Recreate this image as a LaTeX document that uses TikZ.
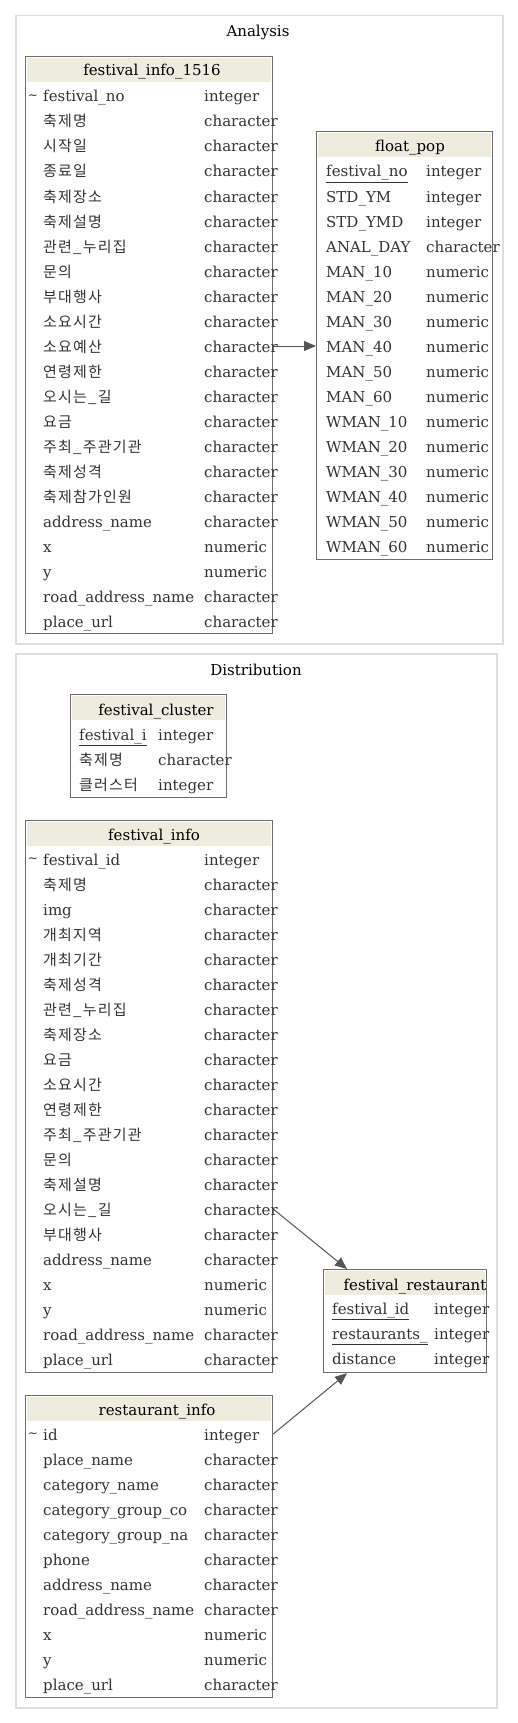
\documentclass[tikz,border=0pt]{standalone}
\usepackage{fontspec}
\setmainfont{DejaVu Serif}
\newfontfamily\kor{Noto Sans CJK KR}[Scale=1.0, LetterSpace=8]
\newcommand{\kname}[1]{{\kor #1}}
\usetikzlibrary{arrows.meta, calc}

\definecolor{hdrfill}{HTML}{EEEBDF}
\definecolor{tblline}{HTML}{6E6E6E}
\definecolor{clusterline}{HTML}{DEDEDE}
\definecolor{fkline}{HTML}{555555}
\definecolor{rowtext}{HTML}{333333}

\tikzset{
  cluster/.style={draw=clusterline, line width=1.5pt, inner sep=0pt, anchor=north west},
  tbl/.style={draw=tblline, line width=1.2pt, inner sep=0pt, anchor=north west},
  hdr/.style={inner sep=0pt, text height=14pt, text depth=2pt, font=\fontsize{15}{18}\selectfont},
  row/.style={anchor=west, inner sep=0pt, text height=14pt, text depth=2pt, font=\fontsize{15}{18}\selectfont, text=rowtext},
  key/.style={inner sep=0pt, font=\fontsize{12}{13}\selectfont, text=rowtext},
  fk/.style={draw=fkline, line width=1pt, -{Triangle[length=12pt,width=10pt]}},
}

\begin{document}
\begin{tikzpicture}[x=1pt, y=-1pt]
    \useasboundingbox (0,0) rectangle (518,1723);

    % Clusters
    \node[cluster, minimum width=487pt, minimum height=628pt] (analysis) at (15,15) {};
    \node[hdr] (analysis-h) at (258,31) {Analysis};
    \node[cluster, minimum width=481pt, minimum height=1054pt] (distribution) at (15,653) {};
    \node[hdr] (distribution-h) at (256,669) {Distribution};

    % festival_info_1516
    \node[tbl, minimum width=247pt, minimum height=577pt] (fi1516) at (25,56) {};
    \fill[hdrfill] ($(fi1516.north west)+(2,2)$) rectangle ($(fi1516.north east)+(-2,26)$);
    \node[hdr] (fi1516-h) at (152,70) {festival\_info\_1516};
    \node[key] (fi1516-k) at (33,97) {\symbol{126}};
    \foreach \i/\n/\t in {1/festival\_no/integer, 2/\kname{축제명}/character, 3/\kname{시작일}/character,
      4/\kname{종료일}/character, 5/\kname{축제장소}/character, 6/\kname{축제설명}/character,
      7/\kname{관련\_누리집}/character, 8/\kname{문의}/character, 9/\kname{부대행사}/character,
      10/\kname{소요시간}/character, 11/\kname{소요예산}/character, 12/\kname{연령제한}/character,
      13/\kname{오시는\_길}/character, 14/\kname{요금}/character, 15/\kname{주최\_주관기관}/character,
      16/\kname{축제성격}/character, 17/\kname{축제참가인원}/character, 18/address\_name/character,
      19/x/numeric, 20/y/numeric, 21/road\_address\_name/character, 22/place\_url/character} {
      \node[row] (fi1516-n\i) at (43,71+25*\i) {\n};
      \node[row] (fi1516-t\i) at (204,71+25*\i) {\t};
    }

    % float_pop
    \node[tbl, minimum width=176pt, minimum height=428pt] (fp) at (316,131) {};
    \fill[hdrfill] ($(fp.north west)+(2,2)$) rectangle ($(fp.north east)+(-2,26)$);
    \node[hdr] (fp-h) at (410,146) {float\_pop};
    \foreach \i/\n/\t in {1/\underline{festival\_no}/integer, 2/STD\_YM/integer, 3/STD\_YMD/integer,
      4/ANAL\_DAY/character, 5/MAN\_10/numeric, 6/MAN\_20/numeric, 7/MAN\_30/numeric,
      8/MAN\_40/numeric, 9/MAN\_50/numeric, 10/MAN\_60/numeric, 11/WMAN\_10/numeric,
      12/WMAN\_20/numeric, 13/WMAN\_30/numeric, 14/WMAN\_40/numeric, 15/WMAN\_50/numeric,
      16/WMAN\_60/numeric} {
      \node[row] (fp-n\i) at (326,146+25*\i) {\n};
      \node[row] (fp-t\i) at (426,146+25*\i) {\t};
    }

    % festival_cluster
    \node[tbl, minimum width=156pt, minimum height=103pt] (fc) at (70,694) {};
    \fill[hdrfill] ($(fc.north west)+(2,2)$) rectangle ($(fc.north east)+(-2,26)$);
    \node[hdr] (fc-h) at (156,709) {festival\_cluster};
    \foreach \i/\n/\t in {1/\underline{festival\_i}/integer, 2/\kname{축제명}/character, 3/\kname{클러스터}/integer} {
      \node[row] (fc-n\i) at (79,709+25*\i) {\n};
      \node[row] (fc-t\i) at (158,709+25*\i) {\t};
    }

    % festival_info
    \node[tbl, minimum width=247pt, minimum height=552pt] (fi) at (25,820) {};
    \fill[hdrfill] ($(fi.north west)+(2,2)$) rectangle ($(fi.north east)+(-2,26)$);
    \node[hdr] (fi-h) at (154,834) {festival\_info};
    \node[key] (fi-k) at (33,860) {\symbol{126}};
    \foreach \i/\n/\t in {1/festival\_id/integer, 2/\kname{축제명}/character, 3/img/character,
      4/\kname{개최지역}/character, 5/\kname{개최기간}/character, 6/\kname{축제성격}/character,
      7/\kname{관련\_누리집}/character, 8/\kname{축제장소}/character, 9/\kname{요금}/character,
      10/\kname{소요시간}/character, 11/\kname{연령제한}/character, 12/\kname{주최\_주관기관}/character,
      13/\kname{문의}/character, 14/\kname{축제설명}/character, 15/\kname{오시는\_길}/character,
      16/\kname{부대행사}/character, 17/address\_name/character, 18/x/numeric, 19/y/numeric,
      20/road\_address\_name/character, 21/place\_url/character} {
      \node[row] (fi-n\i) at (43,834+25*\i) {\n};
      \node[row] (fi-t\i) at (204,834+25*\i) {\t};
    }

    % festival_restaurant
    \node[tbl, minimum width=163pt, minimum height=103pt] (fr) at (323,1269) {};
    \fill[hdrfill] ($(fr.north west)+(2,2)$) rectangle ($(fr.north east)+(-2,26)$);
    \node[hdr] (fr-h) at (415,1284) {festival\_restaurant};
    \foreach \i/\n/\t in {1/\underline{festival\_id}/integer, 2/\underline{restaurants\_}/integer, 3/distance/integer} {
      \node[row] (fr-n\i) at (332,1283+25*\i) {\n};
      \node[row] (fr-t\i) at (434,1283+25*\i) {\t};
    }

    % restaurant_info
    \node[tbl, minimum width=247pt, minimum height=302pt] (ri) at (25,1395) {};
    \fill[hdrfill] ($(ri.north west)+(2,2)$) rectangle ($(ri.north east)+(-2,26)$);
    \node[hdr] (ri-h) at (157,1409) {restaurant\_info};
    \node[key] (ri-k) at (33,1435) {\symbol{126}};
    \foreach \i/\n/\t in {1/id/integer, 2/place\_name/character, 3/category\_name/character,
      4/category\_group\_co/character, 5/category\_group\_na/character, 6/phone/character,
      7/address\_name/character, 8/road\_address\_name/character, 9/x/numeric, 10/y/numeric,
      11/place\_url/character} {
      \node[row] (ri-n\i) at (43,1409+25*\i) {\n};
      \node[row] (ri-t\i) at (204,1409+25*\i) {\t};
    }

    % Connectors
    \draw[fk] (fi1516.east |- fi1516-n11) -- (fp.west |- fi1516-n11);
    \draw[fk] (fi.east |- fi-n15) -- ($(fr.north west)+(24,0)$);
    \draw[fk] (ri.east |- ri-n1) -- ($(fr.south west)+(24,0)$);
\end{tikzpicture}
\end{document}
